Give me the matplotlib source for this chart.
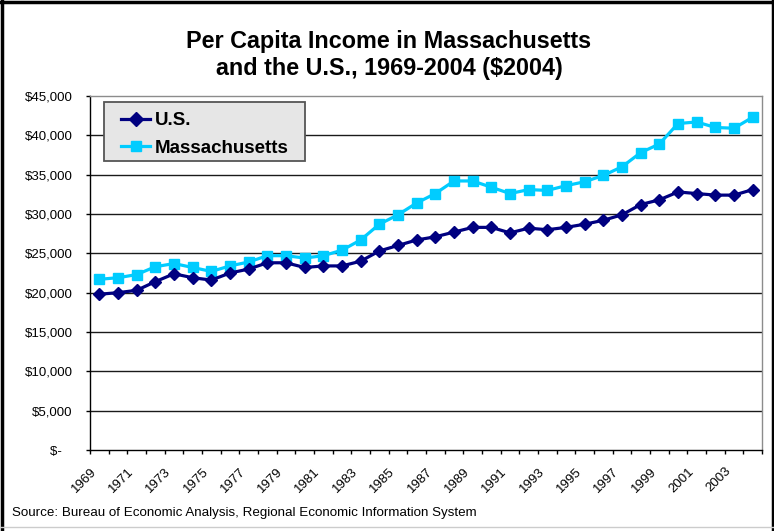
import matplotlib
matplotlib.use("Agg")
import matplotlib.pyplot as plt
from matplotlib.lines import Line2D
from matplotlib.patches import Rectangle
from matplotlib.transforms import ScaledTranslation

years = list(range(1969, 2005))
us = [19.8, 20.0, 20.3, 21.4, 22.4, 21.9, 21.6, 22.5, 23.0, 23.8, 23.8, 23.2, 23.4, 23.4, 24.0,
      25.3, 26.0, 26.7, 27.1, 27.7, 28.3, 28.3, 27.6, 28.2, 28.0, 28.3, 28.7, 29.2, 29.9, 31.2,
      31.8, 32.8, 32.6, 32.4, 32.4, 33.1]
ma = [21.7, 21.9, 22.3, 23.3, 23.7, 23.2, 22.7, 23.4, 23.9, 24.7, 24.7, 24.4, 24.7, 25.4, 26.7,
      28.7, 29.9, 31.4, 32.6, 34.2, 34.2, 33.4, 32.6, 33.1, 33.0, 33.6, 34.1, 34.9, 36.0, 37.8,
      38.9, 41.5, 41.7, 41.0, 40.9, 42.3]
us = [v * 1000 for v in us]
ma = [v * 1000 for v in ma]
label_years = list(range(1969, 2004, 2))
ytick_vals = list(range(0, 45001, 5000))
ytick_labels = ["$-   "] + [f"${v:,}" for v in ytick_vals[1:]]

title = "Per Capita Income in Massachusetts\nand the U.S., 1969-2004 ($2004)"
source = "Source: Bureau of Economic Analysis, Regional Economic Information System"

FAM = ["Liberation Sans", "DejaVu Sans"]
W, H = 774, 531
fig = plt.figure(figsize=(W / 100, H / 100), dpi=100)
ax = fig.add_axes([90 / W, (H - 450) / H, 672 / W, 354 / H])

navy = "#000080"
cyan = "#00CCFF"
ax.plot(years, ma, color=cyan, lw=2.3, marker="s", ms=7, mec=cyan, mfc=cyan, zorder=3)
ax.plot(years, us, color=navy, lw=2.3, marker="D", ms=6.5, mec=navy, mfc=navy, zorder=4)

ax.set_xlim(1968.5, 2004.5)
ax.set_ylim(0, 45000)
ax.set_yticks(ytick_vals)
ax.set_yticklabels(ytick_labels, fontsize=9.5, family=FAM)
ax.set_xticks(label_years)
ax.set_xticklabels([str(y) for y in label_years], rotation=45, ha="right", va="center",
                   rotation_mode="anchor", fontsize=9.5, family=FAM)
ax.tick_params(axis="x", which="major", length=0, pad=14)
for lab in ax.get_xticklabels():
    lab.set_transform(lab.get_transform() + ScaledTranslation(-5 / 100, 0, fig.dpi_scale_trans))
ax.set_xticks([y + 0.5 for y in range(1968, 2005)], minor=True)
ax.tick_params(axis="x", which="minor", length=3, width=1, color="black", direction="out")
ax.tick_params(axis="y", length=3, width=1, color="black", direction="out", pad=9.4)

for v in ytick_vals[1:-1]:
    ax.axhline(v, color="#1a1a1a", lw=1, zorder=1)
ax.spines["left"].set_color("black")
ax.spines["bottom"].set_color("black")
ax.spines["top"].set_color("#8c8c8c")
ax.spines["right"].set_color("#8c8c8c")
for s in ax.spines.values():
    s.set_linewidth(1)

# legend box
fig.patches.append(Rectangle((104 / W, 1 - 161 / H), 201 / W, 59 / H, transform=fig.transFigure,
                             facecolor="#E6E6E6", edgecolor="#555555", lw=1.3, zorder=5))
handles = [Line2D([], [], color=navy, lw=2.3, marker="D", ms=7),
           Line2D([], [], color=cyan, lw=2.3, marker="s", ms=7.5)]
leg = fig.legend(handles, ["U.S.", "Massachusetts"], loc="upper left",
                 bbox_to_anchor=(121 / W, 1 - 112 / H), frameon=False,
                 prop={"family": FAM, "weight": "bold", "size": 13.5},
                 handlelength=1.55, handletextpad=0.25, borderpad=0, borderaxespad=0,
                 labelspacing=0.55)
leg.set_zorder(6)

fig.text(389 / W, 1 - 55 / H, title, ha="center", va="center", fontsize=16.8, fontweight="bold",
         family=FAM, linespacing=1.24)
fig.text(12 / W, 1 - 513 / H, source, ha="left", va="center", fontsize=9.6, family=FAM)

# outer frame
fig.add_artist(Line2D([1.5 / W, 1.5 / W], [0, 1], transform=fig.transFigure, color="black", lw=2.5))
fig.add_artist(Line2D([1 - 1.5 / W, 1 - 1.5 / W], [0, 1], transform=fig.transFigure, color="black", lw=2.5))
fig.add_artist(Line2D([0, 1], [1 - 1.5 / H, 1 - 1.5 / H], transform=fig.transFigure, color="black", lw=2.5))
fig.add_artist(Line2D([0, 1], [1 - 527 / H, 1 - 527 / H], transform=fig.transFigure, color="#cccccc", lw=1))

fig.savefig("out.png", dpi=100)
